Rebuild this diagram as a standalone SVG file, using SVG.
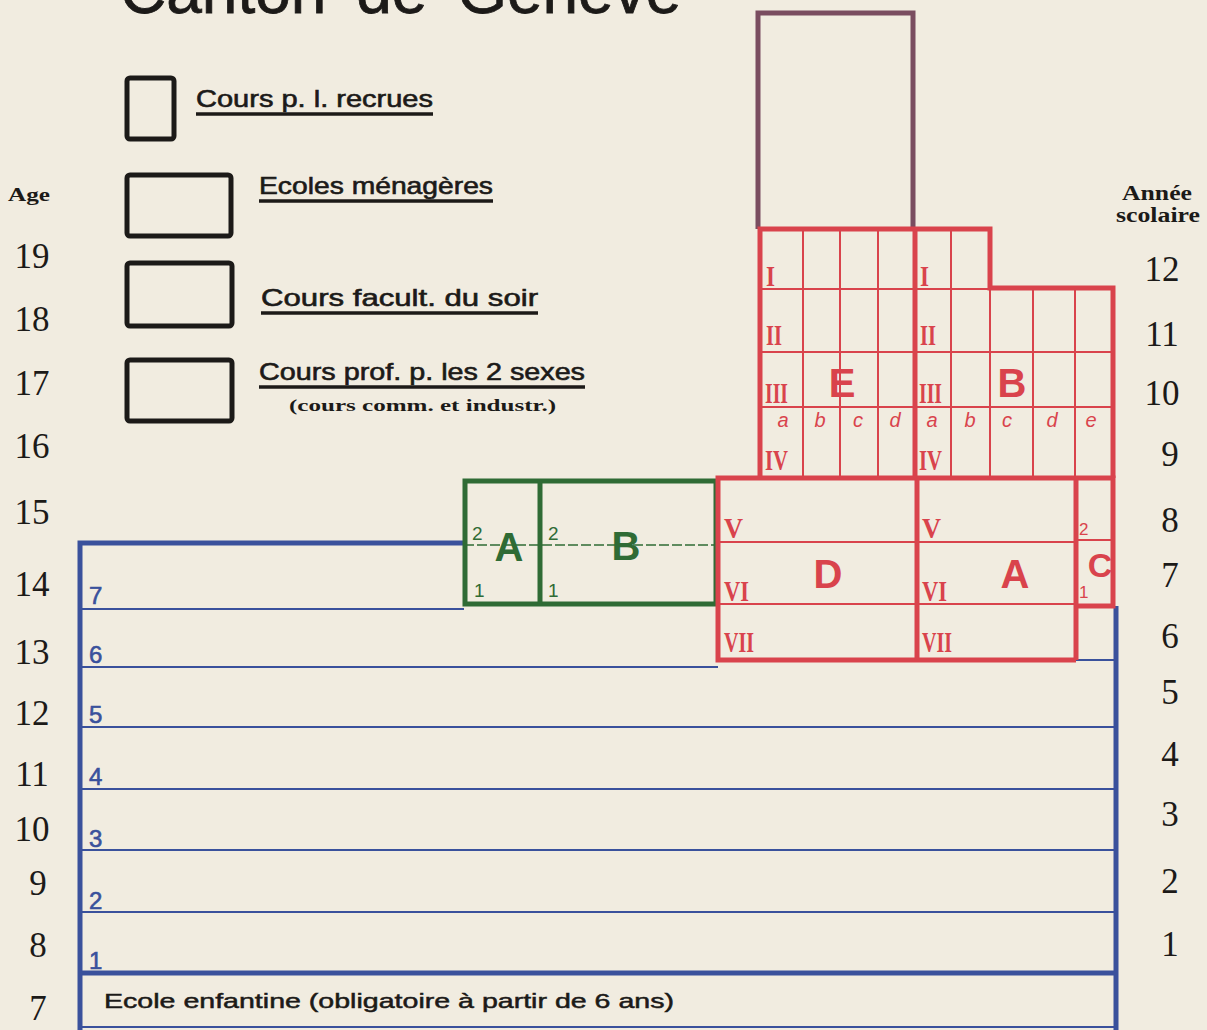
<svg xmlns="http://www.w3.org/2000/svg" width="1207" height="1030" viewBox="0 0 1207 1030">
<style>
.bg{fill:#f1ece0}
.sans{font-family:"Liberation Sans",Arial,sans-serif;fill:#1c1a18}
.leg{font-size:24px;stroke:#1c1a18;stroke-width:0.6}
.serif{font-family:"Liberation Serif","Times New Roman",serif;fill:#1c1a18}
.num{font-size:35px;text-anchor:middle}
.hdr{font-size:20px;font-weight:bold;text-anchor:middle}
.box{fill:none;stroke:#1c1a18;stroke-width:5}
.ul{stroke:#1c1a18;stroke-width:3.5}
.blue{stroke:#3a519c;fill:none}
.red{stroke:#d9434c;fill:none}
.green{stroke:#2f6b35;fill:none}
.purple{stroke:#7a4d60;fill:none}
.rtxt{fill:#d9434c}
.btxt{fill:#3a519c;font-family:"Liberation Sans Narrow","Liberation Sans",sans-serif;font-size:24px;stroke:#3a519c;stroke-width:0.6}
.gtxt{fill:#2f6b35;font-family:"Liberation Sans",sans-serif}
.rom{font-family:"Liberation Serif",serif;font-weight:bold;font-size:30px;fill:#d9434c}
.it{font-family:"Liberation Sans",sans-serif;font-style:italic;font-size:20px;fill:#d9434c;text-anchor:middle}
.big{font-family:"Liberation Sans",sans-serif;font-weight:bold;font-size:40px;text-anchor:middle}
</style>
<rect class="bg" x="0" y="0" width="1207" height="1030"/>

<g id="title">
<text class="sans" x="120" y="13" font-size="64" word-spacing="12" stroke="#1c1a18" stroke-width="0.8">Canton de Genève</text>
</g>

<g id="legend">
<g id="legend-recrues">
<rect class="box" x="127" y="78" width="47" height="61" rx="3"/>
<text class="sans leg" x="196" y="107" textLength="237" lengthAdjust="spacingAndGlyphs">Cours p. l. recrues</text>
<line class="ul" x1="196" y1="114" x2="433" y2="114"/>
</g>
<g id="legend-menageres">
<rect class="box" x="127" y="175" width="104" height="61" rx="3"/>
<text class="sans leg" x="259" y="194" textLength="234" lengthAdjust="spacingAndGlyphs">Ecoles ménagères</text>
<line class="ul" x1="259" y1="201" x2="493" y2="201"/>
</g>
<g id="legend-soir">
<rect class="box" x="127" y="263" width="105" height="63" rx="3"/>
<text class="sans leg" x="261" y="306" textLength="277" lengthAdjust="spacingAndGlyphs">Cours  facult.  du  soir</text>
<line class="ul" x1="261" y1="313" x2="538" y2="313"/>
</g>
<g id="legend-prof">
<rect class="box" x="127" y="360" width="105" height="61" rx="3"/>
<text class="sans leg" x="259" y="380" textLength="326" lengthAdjust="spacingAndGlyphs">Cours prof. p. les 2 sexes</text>
<line class="ul" x1="259" y1="387" x2="585" y2="387"/>
<text class="serif" x="289" y="411" font-size="17" font-weight="bold" textLength="267" lengthAdjust="spacingAndGlyphs">(cours comm. et industr.)</text>
</g>
</g>

<g id="age-axis">
<text class="serif" x="8" y="201" font-size="19" font-weight="bold" textLength="42" lengthAdjust="spacingAndGlyphs">Age</text>
<text class="serif num" x="32" y="268">19</text>
<text class="serif num" x="32" y="331">18</text>
<text class="serif num" x="32" y="395">17</text>
<text class="serif num" x="32" y="458">16</text>
<text class="serif num" x="32" y="524">15</text>
<text class="serif num" x="32" y="596">14</text>
<text class="serif num" x="32" y="664">13</text>
<text class="serif num" x="32" y="725">12</text>
<text class="serif num" x="32" y="786">11</text>
<text class="serif num" x="32" y="841">10</text>
<text class="serif num" x="38" y="895">9</text>
<text class="serif num" x="38" y="957">8</text>
<text class="serif num" x="38" y="1020">7</text>
</g>

<g id="annee-axis">
<text class="serif hdr" x="1157" y="200" textLength="70" lengthAdjust="spacingAndGlyphs">Année</text>
<text class="serif hdr" x="1158" y="222" textLength="84" lengthAdjust="spacingAndGlyphs">scolaire</text>
<text class="serif num" x="1162" y="281">12</text>
<text class="serif num" x="1162" y="346">11</text>
<text class="serif num" x="1162" y="405">10</text>
<text class="serif num" x="1170" y="466">9</text>
<text class="serif num" x="1170" y="532">8</text>
<text class="serif num" x="1170" y="587">7</text>
<text class="serif num" x="1170" y="648">6</text>
<text class="serif num" x="1170" y="704">5</text>
<text class="serif num" x="1170" y="766">4</text>
<text class="serif num" x="1170" y="826">3</text>
<text class="serif num" x="1170" y="893">2</text>
<text class="serif num" x="1170" y="956">1</text>
</g>

<g id="ecole-primaire">
<g class="blue" stroke-width="2">
<line x1="80" y1="609" x2="464" y2="609"/>
<line x1="80" y1="667" x2="718" y2="667"/>
<line x1="1076" y1="660" x2="1116" y2="660"/>
<line x1="80" y1="727" x2="1116" y2="727"/>
<line x1="80" y1="789" x2="1116" y2="789"/>
<line x1="80" y1="850" x2="1116" y2="850"/>
<line x1="80" y1="912" x2="1116" y2="912"/>
<line x1="80" y1="1027" x2="1116" y2="1027"/>
</g>
<g class="blue" stroke-width="5">
<polyline points="464,543 80,543 80,1030"/>
<line x1="1116" y1="606" x2="1116" y2="1030"/>
<line x1="80" y1="973" x2="1116" y2="973"/>
</g>
<text class="btxt" x="89" y="604">7</text>
<text class="btxt" x="89" y="663">6</text>
<text class="btxt" x="89" y="723">5</text>
<text class="btxt" x="89" y="785">4</text>
<text class="btxt" x="89" y="847">3</text>
<text class="btxt" x="89" y="909">2</text>
<text class="btxt" x="89" y="969">1</text>
</g>

<g id="ecole-enfantine">
<text class="sans" x="104" y="1008" font-size="21" stroke="#1c1a18" stroke-width="0.5" textLength="570" lengthAdjust="spacingAndGlyphs">Ecole enfantine (obligatoire à partir de 6 ans)</text>
</g>

<g id="green-block">
<line class="green" x1="464" y1="545" x2="716" y2="545" stroke-width="1.3" stroke-dasharray="10 3"/>
<rect class="green" x="465" y="481" width="251" height="123" stroke-width="5"/>
<line class="green" x1="540" y1="481" x2="540" y2="604" stroke-width="5"/>
<text class="gtxt" x="472" y="540" font-size="19">2</text>
<text class="gtxt" x="474" y="597" font-size="19">1</text>
<text class="gtxt" x="548" y="540" font-size="19">2</text>
<text class="gtxt" x="548" y="597" font-size="19">1</text>
<text class="gtxt big" x="509" y="561">A</text>
<text class="gtxt big" x="626" y="560">B</text>
</g>

<g id="purple-block">
<polyline class="purple" points="758,229 758,13 913,13 913,229" stroke-width="5"/>
</g>

<g id="red-upper">
<g class="red" stroke-width="2">
<line x1="803" y1="229" x2="803" y2="476"/>
<line x1="840" y1="229" x2="840" y2="476"/>
<line x1="878" y1="229" x2="878" y2="476"/>
<line x1="951" y1="229" x2="951" y2="476"/>
<line x1="990" y1="288" x2="990" y2="476"/>
<line x1="1033" y1="288" x2="1033" y2="476"/>
<line x1="1075" y1="288" x2="1075" y2="476"/>
<line x1="760" y1="289" x2="1113" y2="289"/>
<line x1="760" y1="352" x2="1113" y2="352"/>
<line x1="760" y1="407" x2="1113" y2="407"/>
</g>
<g class="red" stroke-width="5">
<polyline points="760,478 760,229 990,229 990,288 1113,288 1113,478"/>
<line x1="915" y1="229" x2="915" y2="478"/>
</g>
<text class="rom" x="766" y="286" textLength="9" lengthAdjust="spacingAndGlyphs">I</text>
<text class="rom" x="766" y="345" textLength="16" lengthAdjust="spacingAndGlyphs">II</text>
<text class="rom" x="765" y="403" textLength="23" lengthAdjust="spacingAndGlyphs">III</text>
<text class="rom" x="765" y="470" textLength="23" lengthAdjust="spacingAndGlyphs">IV</text>
<text class="rom" x="920" y="286" textLength="9" lengthAdjust="spacingAndGlyphs">I</text>
<text class="rom" x="920" y="345" textLength="16" lengthAdjust="spacingAndGlyphs">II</text>
<text class="rom" x="919" y="403" textLength="23" lengthAdjust="spacingAndGlyphs">III</text>
<text class="rom" x="919" y="470" textLength="23" lengthAdjust="spacingAndGlyphs">IV</text>
<text class="it" x="783" y="427">a</text>
<text class="it" x="820" y="427">b</text>
<text class="it" x="858" y="427">c</text>
<text class="it" x="895" y="427">d</text>
<text class="it" x="932" y="427">a</text>
<text class="it" x="970" y="427">b</text>
<text class="it" x="1007" y="427">c</text>
<text class="it" x="1052" y="427">d</text>
<text class="it" x="1091" y="427">e</text>
<text class="rtxt big" x="842" y="397">E</text>
<text class="rtxt big" x="1012" y="397">B</text>
</g>

<g id="red-lower">
<g class="red" stroke-width="2">
<line x1="718" y1="542" x2="1076" y2="542"/>
<line x1="718" y1="604" x2="1076" y2="604"/>
<line x1="1076" y1="540" x2="1113" y2="540"/>
</g>
<g class="red" stroke-width="5">
<polyline points="1076,660 718,660 718,478 1113,478 1113,606 1076,606"/>
<line x1="917" y1="478" x2="917" y2="660"/>
<line x1="1076" y1="478" x2="1076" y2="660"/>
</g>
<text class="rom" x="724" y="538" textLength="19" lengthAdjust="spacingAndGlyphs">V</text>
<text class="rom" x="724" y="601" textLength="25" lengthAdjust="spacingAndGlyphs">VI</text>
<text class="rom" x="724" y="652" textLength="30" lengthAdjust="spacingAndGlyphs">VII</text>
<text class="rom" x="922" y="538" textLength="19" lengthAdjust="spacingAndGlyphs">V</text>
<text class="rom" x="922" y="601" textLength="25" lengthAdjust="spacingAndGlyphs">VI</text>
<text class="rom" x="922" y="652" textLength="30" lengthAdjust="spacingAndGlyphs">VII</text>
<text class="rtxt big" x="828" y="588">D</text>
<text class="rtxt big" x="1015" y="588">A</text>
<text class="rtxt" x="1079" y="535" font-family="Liberation Sans,sans-serif" font-size="17">2</text>
<text class="rtxt" x="1079" y="598" font-family="Liberation Sans,sans-serif" font-size="17">1</text>
<text class="rtxt" x="1100" y="577" font-family="Liberation Sans Narrow,Liberation Sans,sans-serif" font-weight="bold" font-size="34" text-anchor="middle">C</text>
</g>
</svg>
